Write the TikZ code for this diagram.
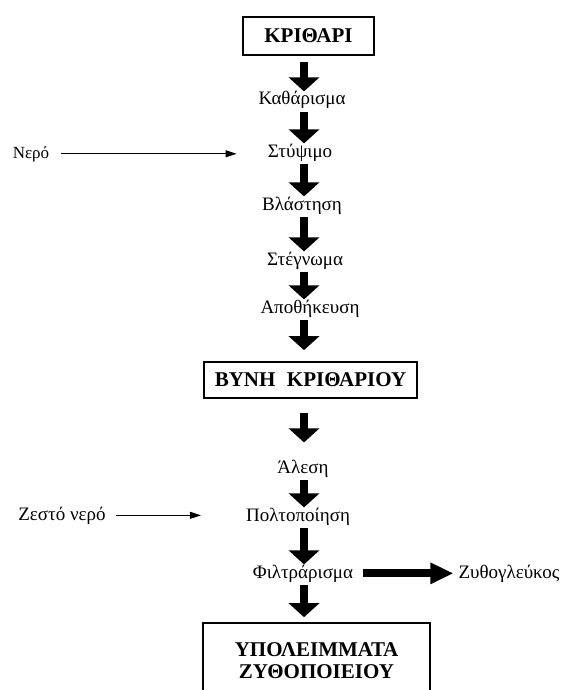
\documentclass[tikz,border=0pt]{standalone}
\usepackage{fontspec}
\setmainfont{Liberation Serif}
\usetikzlibrary{arrows.meta,calc}
\begin{document}
\begin{tikzpicture}[x=1pt,y=-1pt,
  boxnode/.style={draw, line width=1.6pt, font=\fontsize{21}{22}\selectfont\bfseries, inner sep=0pt, align=center},
  lbl/.style={font=\fontsize{19}{22}\selectfont, inner sep=0pt, anchor=base},
  sidelbl/.style={font=\fontsize{17}{20}\selectfont, inner sep=0pt, anchor=base},
  bigarrow/.style={line width=8pt, -{Triangle[width=30pt,length=14pt]}, shorten <=3pt},
  sidearrow/.style={line width=8pt, -{Triangle[width=20pt,length=23pt]}},
  thinarrow/.style={line width=0.9pt, -{Triangle[width=7pt,length=11pt]}}]
\useasboundingbox[fill=white] (0,0) rectangle (564,690);
\coordinate (ax) at (304,0);
% boxes
\node[boxnode, minimum width=131pt, minimum height=38pt] (kri) at (308.5,36) {ΚΡΙΘΑΡΙ};
\node[boxnode, minimum width=213pt, minimum height=36pt] (vyni) at (310.5,380) {ΒΥΝΗ\hspace{0.3em} ΚΡΙΘΑΡΙΟΥ};
\node[boxnode, minimum width=227pt, minimum height=76pt] (ypol) at (316.5,661) {ΥΠΟΛΕΙΜΜΑΤΑ\\ΖΥΘΟΠΟΙΕΙΟΥ};
% labels
\node[lbl] (kath) at (302,105) {Καθάρισμα};
\node[lbl] (styp) at (300,157) {Στύψιμο};
\node[lbl] (vlas) at (302,210) {Βλάστηση};
\node[lbl] (steg) at (305,265) {Στέγνωμα};
\node[lbl] (apot) at (310,313) {Αποθήκευση};
\node[lbl] (ales) at (303,473) {Άλεση};
\node[lbl] (polt) at (298,521) {Πολτοποίηση};
\node[lbl] (filt) at (303,578) {Φιλτράρισμα};
\node[lbl] (zyth) at (509,578) {Ζυθογλεύκος};
\node[sidelbl] (nero) at (31,158) {Νερό};
\node[lbl] (zesto) at (62,520) {Ζεστό νερό};
% vertical arrows
\draw[bigarrow, shorten <=6pt] (kri.south -| ax) -- (kath.north -| ax);
\draw[bigarrow] (kath.south -| ax) -- (styp.north -| ax);
\draw[bigarrow] (styp.south -| ax) -- (vlas.north -| ax);
\draw[bigarrow] (vlas.south -| ax) -- (steg.north -| ax);
\draw[bigarrow] (steg.south -| ax) -- (apot.north -| ax);
\draw[bigarrow, shorten >=11pt] (apot.south -| ax) -- (vyni.north -| ax);
\draw[bigarrow, shorten <=14pt, shorten >=17pt] (vyni.south -| ax) -- (ales.north -| ax);
\draw[bigarrow] (ales.south -| ax) -- (polt.north -| ax);
\draw[bigarrow] (polt.south -| ax) -- (filt.north -| ax);
\draw[bigarrow, shorten >=5pt] (filt.south -| ax) -- (ypol.north -| ax);
% side arrows
\draw[thinarrow, shorten <=12pt, shorten >=31pt] (nero.east) -- (nero.east -| styp.west);
\draw[thinarrow, shorten <=10pt, shorten >=45pt] (zesto.east) -- (zesto.east -| polt.west);
\draw[sidearrow, shorten <=10pt, shorten >=5pt] (filt.east) -- (filt.east -| zyth.west);
\end{tikzpicture}
\end{document}
